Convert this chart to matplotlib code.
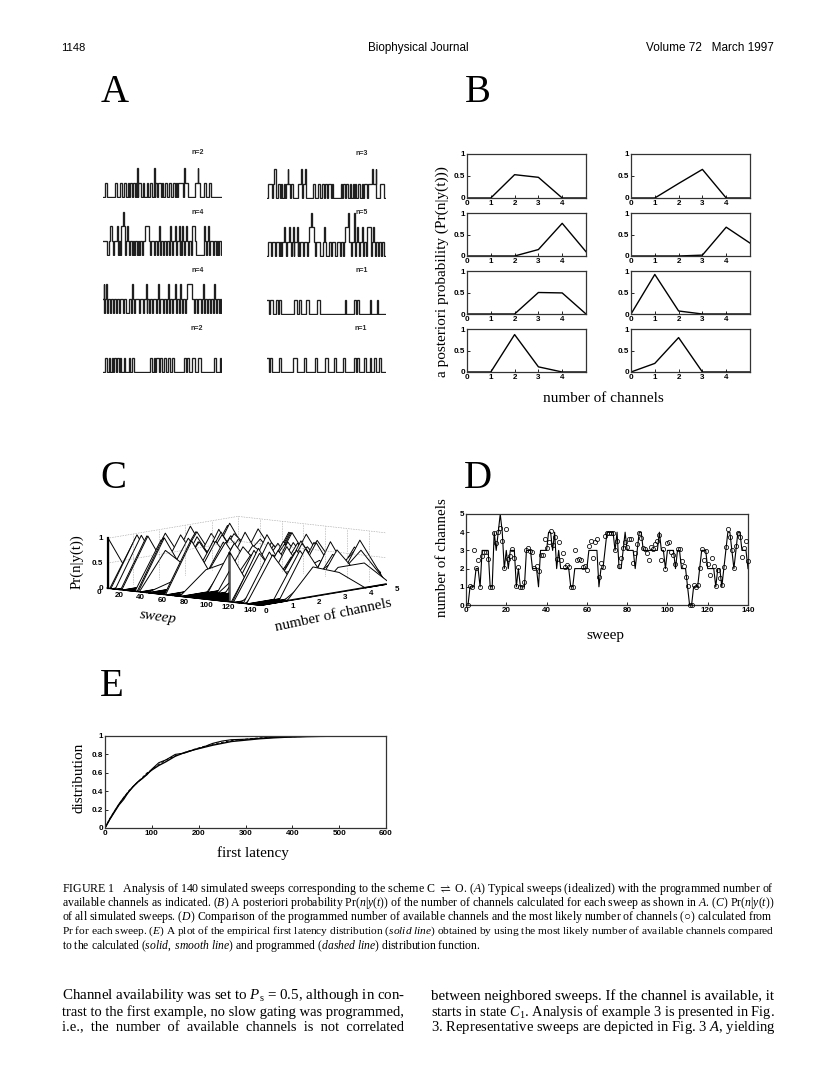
"""Journal page: simulated sweeps, channel posteriors, waterfall, latency CDF."""

import numpy as np
import matplotlib
matplotlib.use("Agg")
import matplotlib.pyplot as plt
from mpl_toolkits.mplot3d import proj3d
from mpl_toolkits.mplot3d.art3d import Poly3DCollection

W, H = 816, 1078
SERIF = "Liberation Serif"
SANS = "Liberation Sans"

# A: each sweep is a list of (open, close) pulses per current level
sweep_n2a_l1 = [(2, 4), (12, 14), (17, 19), (21, 23), (24.5, 26), (27, 28.5), (30, 31.5), (32.5, 34), (35, 38),
                (39.5, 41), (44, 45), (47, 49), (50.5, 51.5), (52, 53.5), (55, 58), (59, 60), (62, 64), (66, 68),
                (70, 72), (73, 74), (75, 80), (81, 85), (92, 97), (101, 103), (106, 108)]
sweep_n2a_l2 = [(34.3, 34.8), (51, 51.5), (81, 81.5), (94.5, 95)]
sweep_n3_l1 = [(1, 5), (6, 9), (11, 13), (14, 15), (17, 18), (19, 23), (24, 26), (31, 35), (36, 38), (46, 48),
               (51, 53), (55, 57), (58, 60), (61, 64), (65, 66), (74, 75), (76, 78), (79, 81), (83, 84), (86, 87),
               (88, 89), (91, 93), (95, 96), (97, 100), (101, 105), (106, 109), (113, 117)]
sweep_n3_l2 = [(7, 9), (20.5, 21), (34, 34.6), (38, 38.6), (105, 106), (108.5, 109)]
sweep_n4a_l1 = [(0, 4), (6, 7), (8, 10), (11, 15), (16, 17), (18, 20), (21, 22), (23, 26), (27, 29), (30, 31),
                (32, 34), (35, 36), (37, 39), (40, 42), (43, 44), (45, 47), (48, 51), (52, 54), (55, 57), (58, 60),
                (61, 63), (64, 66), (67, 69), (70, 73), (74, 76), (77, 78), (79, 81), (82, 85), (86, 88), (89, 90),
                (91, 93), (101, 103), (104, 106), (107, 110), (111, 113), (114, 115), (116, 118)]
sweep_n4a_l2 = [(7, 8.5), (14, 15), (18, 22), (24, 25), (42, 46), (56, 56.5), (67, 67.5), (72, 72.5), (76, 76.5),
                (79, 79.5), (83, 84), (89, 92), (101, 102), (105, 105.5)]
sweep_n4a_l3 = [(20, 20.5)]
sweep_n5_l1 = [(1, 4), (5, 8), (9, 12), (13, 14), (15, 19), (20, 24), (25, 26), (27, 30), (31, 32), (33, 36),
               (37, 40), (41, 44), (45, 48), (49, 53), (56, 59), (62, 64), (65, 68), (70, 73), (74, 76), (77, 79),
               (81, 84), (85, 88), (89, 92), (93, 96), (97, 99), (100, 104), (105, 108), (109, 111), (112, 114),
               (115, 117)]
sweep_n5_l2 = [(17, 17.5), (22, 22.5), (26, 26.5), (30, 30.5), (42, 47), (57, 57.5), (78, 81), (90, 90.5), (95, 95.5),
               (100, 104), (106, 106.5)]
sweep_n5_l3 = [(44, 44.5), (81, 81.5), (87, 87.5)]
sweep_n4b_l1 = [(0, 1), (2, 4), (5, 7), (8, 10), (11, 13), (14, 16), (17, 20), (21, 23), (26, 28), (29, 31),
                (32, 36), (37, 40), (41, 43), (44, 46), (47, 49), (50, 53), (54, 56), (57, 60), (61, 63), (64, 66),
                (67, 69), (70, 73), (74, 76), (77, 79), (80, 82), (83, 85), (86, 88), (89, 91), (92, 94), (95, 98),
                (99, 101), (102, 104), (105, 107), (108, 110), (111, 113), (114, 116), (117, 118)]
sweep_n4b_l2 = [(0.5, 1), (3, 4), (29, 29.5), (43, 43.5), (55, 55.5), (65, 65.5), (72, 72.5), (77, 77.5), (84, 89),
                (100, 100.5), (111, 111.5)]
sweep_n1a_l1 = [(0, 2), (3, 6), (9, 11), (12, 14), (27, 30), (32, 34), (39, 42), (50, 53), (78, 79), (87, 89),
                (90, 92), (103, 104), (110, 111)]
sweep_n2b_l1 = [(2, 4), (6, 7), (9, 10), (11, 13), (14, 16), (17, 18), (21, 22), (26, 27), (29, 31), (47, 49),
                (51, 52), (53, 56), (57, 59), (61, 63), (65, 67), (69, 71), (81, 83), (84, 86), (89, 92), (95, 98),
                (111, 113), (117, 118)]
sweep_n1b_l1 = [(0, 2), (3, 5), (12, 14), (26, 30), (37, 39), (48, 50), (58, 61), (67, 69), (76, 78), (87, 89),
                (90, 92), (97, 99), (103, 104), (107, 109), (112, 114)]
sweep_labels = ["n=2", "n=3", "n=4", "n=5", "n=4", "n=1", "n=2", "n=1"]

# B: posterior per panel, channels 0..5
channels = [0, 1, 2, 3, 4, 5]
post_1l = [0, 0, 0.53, 0.47, 0, 0]
post_1r = [0, 0, 0.33, 0.65, 0, 0]
post_2l = [0, 0, 0, 0.15, 0.76, 0.1]
post_2r = [0, 0, 0, 0.02, 0.67, 0.3]
post_3l = [0, 0, 0, 0.5, 0.49, 0]
post_3r = [0, 0.92, 0.07, 0, 0, 0]
post_4l = [0, 0, 0.87, 0.12, 0, 0]
post_4r = [0, 0.2, 0.8, 0, 0, 0]

# D: programmed number per sweep (line) and most likely number (circles)
programmed = [0, 1, 1, 1, 2, 2, 1, 3, 3, 3, 3, 1, 1, 4, 3, 4, 5, 4, 2, 3,
              2, 3, 3, 3, 1, 2, 1, 1, 1, 3, 3, 3, 2, 2, 2, 1, 3, 3, 3, 3,
              4, 4, 3, 4, 2, 3, 2, 2, 2, 2, 2, 1, 1, 2, 2, 2, 2, 2, 2, 2,
              3, 3, 3, 3, 3, 1, 2, 2, 3, 4, 4, 4, 4, 3, 4, 2, 2, 3, 4, 3,
              3, 3, 3, 2, 3, 4, 4, 3, 3, 3, 3, 3, 3, 3, 3, 4, 3, 3, 2, 3,
              3, 3, 3, 2, 3, 3, 2, 2, 2, 1, 0, 0, 1, 1, 1, 2, 3, 3, 3, 2,
              2, 2, 2, 1, 2, 2, 1, 2, 3, 4, 4, 3, 2, 3, 4, 4, 3, 3, 3, 2]
likely = [0.0, 1.05, 1.0, 3.0, 2.05, 2.45, 1.0, 2.7, 2.9, 2.9, 2.55, 1.0, 1.0, 3.95, 3.4, 4.0, 4.25, 3.5, 2.05, 4.2,
          2.55, 2.7, 3.1, 2.6, 1.05, 2.1, 1.0, 1.0, 1.25, 3.0, 3.15, 2.95, 2.9, 2.05, 2.15, 1.85, 2.75, 2.75, 3.65, 3.15,
          3.45, 4.05, 3.3, 3.75, 2.55, 3.45, 2.45, 2.85, 2.1, 2.2, 2.1, 1.0, 1.0, 3.0, 2.5, 2.55, 2.45, 2.1, 2.15, 1.9,
          3.25, 3.5, 2.6, 3.45, 3.65, 1.55, 2.3, 2.1, 3.8, 3.95, 3.95, 3.95, 3.95, 3.0, 3.5, 2.15, 2.6, 3.15, 3.45, 3.2,
          3.65, 3.65, 2.3, 2.85, 3.35, 3.95, 3.7, 3.15, 3.1, 2.85, 2.45, 3.2, 3.1, 3.35, 3.5, 3.85, 2.5, 3.1, 2.0, 3.4,
          3.45, 2.9, 2.75, 2.25, 3.05, 3.1, 2.4, 2.15, 1.55, 1.05, 0.0, 0.0, 1.1, 1.0, 1.1, 2.05, 3.05, 2.5, 2.95, 2.25,
          1.65, 2.6, 2.15, 1.05, 1.9, 1.5, 1.1, 2.1, 3.2, 4.2, 3.75, 3.0, 2.05, 3.25, 3.95, 3.75, 2.65, 3.15, 3.5, 2.4]

# E: first latency distributions
latency = [0, 10, 20, 30, 40, 50, 60, 70, 80, 90, 100, 115, 130, 150, 170, 190, 210, 230, 250, 270, 300, 330, 360,
           400, 460, 500, 600]
dist_empirical = [0, .09, .17, .25, .31, .39, .45, .50, .54, .58, .64, .71, .74, .80, .815, .85, .88, .92, .945, .96,
                  .965, .975, .985, .99, 1, 1, 1]
dist_programmed = [0, .10, .18, .26, .33, .40, .45, .50, .55, .60, .635, .69, .74, .785, .82, .855, .885, .91, .93, .95,
                   .965, .98, .985, .992, .998, 1, 1]
dist_calculated = [0, .095, .18, .26, .33, .39, .45, .50, .54, .59, .63, .68, .72, .78, .82, .85, .875, .90, .92, .94,
                   .955, .97, .98, .99, .996, .998, 1]

caption_lines = [
    r"FIGURE 1   Analysis of 140 simulated sweeps corresponding to the scheme C $\rightleftharpoons$ O. $\mathit{(A)}$ Typical sweeps (idealized) with the programmed number of",
    r"available channels as indicated. $\mathit{(B)}$ A posteriori probability Pr($\mathit{n|y(t)}$) of the number of channels calculated for each sweep as shown in $\mathit{A}$. $\mathit{(C)}$ Pr($\mathit{n|y(t)}$)",
    r"of all simulated sweeps. $\mathit{(D)}$ Comparison of the programmed number of available channels and the most likely number of channels ($\bigcirc$) calculated from",
    r"Pr for each sweep. $\mathit{(E)}$ A plot of the empirical first latency distribution ($\mathit{solid\ line}$) obtained by using the most likely number of available channels compared",
    r"to the calculated ($\mathit{solid,\ smooth\ line}$) and programmed ($\mathit{dashed\ line}$) distribution function.",
]
body_left = [
    r"Channel availability was set to $\mathit{P}_{\mathrm{s}}$ = 0.5, although in con-",
    "trast to the first example, no slow gating was programmed,",
    "i.e.,  the  number  of  available  channels  is  not  correlated",
]
body_right = [
    "between neighbored sweeps. If the channel is available, it",
    r"starts in state $\mathit{C}_{1}$. Analysis of example 3 is presented in Fig.",
    r"3. Representative sweeps are depicted in Fig. 3 $\mathit{A}$, yielding",
]

plt.rcParams["font.family"] = SERIF
plt.rcParams["mathtext.fontset"] = "custom"
plt.rcParams["mathtext.rm"] = SERIF
plt.rcParams["mathtext.it"] = SERIF + ":italic"
plt.rcParams["mathtext.bf"] = SERIF + ":bold"

fig = plt.figure(figsize=(W / 100, H / 100), dpi=100)
renderer = fig.canvas.get_renderer()


def px_axes(left, top, right, bottom, **kw):
    return fig.add_axes([left / W, 1 - bottom / H, (right - left) / W, (bottom - top) / H], **kw)


def label(x, y, s, width=None, size=10, rotation=0, ha="center", **kw):
    """Text at page pixels; with width, the size is scaled to span that many pixels."""
    t = fig.text(x / W, 1 - y / H, s, fontsize=size, ha=ha, va="center", rotation_mode="anchor", **kw)
    if width is not None:
        t.set_fontsize(size * width / t.get_window_extent(renderer).width)
    t.set_rotation(rotation)
    return t


def style_box(ax):
    for sp in ax.spines.values():
        sp.set_linewidth(0.9)
        sp.set_color("0.2")
    ax.tick_params(direction="in", length=2, width=0.6, labelsize=5.8, pad=1.5, colors="k")
    for t in ax.get_xticklabels() + ax.get_yticklabels():
        t.set_fontfamily(SANS)
        t.set_fontweight("bold")


def trace(*levels):
    """Step trace of a sweep: the level at any time is the highest open pulse list."""
    edges = sorted({e for lv in levels for p in lv for e in p} | {0.0, 119.0})
    mids = (np.array(edges[:-1]) + np.array(edges[1:])) / 2
    lev = np.zeros(len(mids))
    for i, lv in enumerate(levels, start=1):
        for a, b in lv:
            lev[(mids > a) & (mids < b)] = i
    return edges, np.r_[lev, lev[-1]]


# -- page text ---------------------------------------------------------------
label(61, 48, "1148", width=24, ha="left", family=SANS)
label(418, 48, "Biophysical Journal", width=100, family=SANS)
label(774, 48, "Volume 72   March 1997", width=128, ha="right", family=SANS)
for s, x, y in (("A", 115, 93), ("B", 478, 93), ("C", 113, 479), ("D", 478, 479), ("E", 112, 686)):
    label(x, y, s, size=28)

for line, y, right in zip(caption_lines, (889, 903, 917, 931, 946), (773, 773, 773, 773, 481)):
    label(62, y, line, width=right - 62, ha="left")
for line, y in zip(body_left, (996, 1012, 1028)):
    label(62, y, line, width=344, ha="left")
for line, y in zip(body_right, (996, 1012, 1028)):
    label(431, y, line, width=343, ha="left")

# -- A: idealized sweeps -----------------------------------------------------
sweeps = [
    (103, 197, (sweep_n2a_l1, sweep_n2a_l2)),
    (267, 198, (sweep_n3_l1, sweep_n3_l2)),
    (103, 255, (sweep_n4a_l1, sweep_n4a_l2, sweep_n4a_l3)),
    (267, 256, (sweep_n5_l1, sweep_n5_l2, sweep_n5_l3)),
    (103, 313, (sweep_n4b_l1, sweep_n4b_l2)),
    (267, 314, (sweep_n1a_l1,)),
    (103, 372, (sweep_n2b_l1,)),
    (267, 372, (sweep_n1b_l1,)),
]
label_xy = [(198, 153), (362, 154), (198, 212), (362, 213), (198, 271), (362, 271), (197, 328), (361, 329)]
for (x0, base, levels), name, (lx, ly) in zip(sweeps, sweep_labels, label_xy):
    ax = px_axes(x0, base - 45, x0 + 119, base + 1)
    t, lev = trace(*levels)
    ax.plot(t, lev, color="0.12", lw=0.95, drawstyle="steps-post", solid_joinstyle="miter")
    ax.set_xlim(0, 119)
    ax.set_ylim(-1 / 14.3, 45 / 14.3)
    ax.axis("off")
    label(lx, ly, name, size=5, family=SANS, weight="bold", color="0.15")

# -- B: posteriors -----------------------------------------------------------
rows = [(154, 198), (213, 256), (271, 314), (329, 372)]
cols = [(467, 586), (631, 750)]
panels = [post_1l, post_1r, post_2l, post_2r, post_3l, post_3r, post_4l, post_4r]
for i, post in enumerate(panels):
    top, bottom = rows[i // 2]
    left, right = cols[i % 2]
    ax = px_axes(left, top, right, bottom)
    ax.plot(channels, post, color="k", lw=1.0)
    ax.set_xlim(0, 5)
    ax.set_ylim(0, 1)
    ax.set_xticks([0, 1, 2, 3, 4])
    ax.set_yticks([0, 0.5, 1], ["0", "0.5", "1"])
    style_box(ax)
label(442, 272, "a posteriori probability (Pr(n|y(t)))", width=210, rotation=90)
label(603, 399, "number of channels", width=120)

# -- C: waterfall of Pr(n|y(t)) ----------------------------------------------
ax3 = fig.add_axes([0.1, 0.4, 0.4, 0.4], projection="3d", proj_type="ortho", computed_zorder=False)
ax3.set_xlim(0, 140)
ax3.set_ylim(0, 5)
ax3.set_zlim(0, 1)
ax3.view_init(elev=7.85, azim=-50.9)
ax3.set_box_aspect((197, 207, 50))
ax3.set_axis_off()

sweep_ticks = [20, 40, 60, 80, 100, 120, 140]
grid = dict(color="0.5", lw=0.45, ls=":")
for n in channels[1:]:
    ax3.plot([0, 0], [n, n], [0, 1], **grid)
for s in sweep_ticks:
    ax3.plot([s, s], [5, 5], [0, 1], **grid)
for z in (0.5, 1):
    ax3.plot([0, 0, 140], [0, 5, 5], [z, z, z], **grid)

# each sweep's posterior splits over the two channels either side of its circle in D
for s, c in enumerate(likely, start=1):
    low = min(int(c), 4)
    pr = np.zeros(6)
    pr[low], pr[low + 1] = 1 - (c - low), c - low
    verts = [(s, 0, 0)] + [(s, n, p) for n, p in zip(channels, pr)] + [(s, 5, 0)]
    ax3.add_collection3d(Poly3DCollection([verts], facecolor="white", edgecolor="k", linewidth=0.7))

ax3.plot([0, 140, 140], [0, 0, 5], [0, 0, 0], color="k", lw=0.8)
ax3.plot([1, 1], [0, 0], [0, 1], color="k", lw=1.6)


def corner_px(x, y, z):
    px, py, _ = proj3d.proj_transform(x, y, z, ax3.get_proj())
    return ax3.transData.transform((px, py))


# scale and shift the 3d axes until the floor diagonal lands on the printed one
a_target = np.array([107.0, H - 588.0])
b_target = np.array([391.0, H - 583.0])
fig.canvas.draw()
a, b = corner_px(0, 0, 0), corner_px(140, 5, 0)
pos = ax3.get_position()
k = np.linalg.norm(b_target - a_target) / np.linalg.norm(b - a)
ax3.set_position([pos.x0, pos.y0, pos.width * k, pos.height * k])
fig.canvas.draw()
a = corner_px(0, 0, 0)
pos = ax3.get_position()
ax3.set_position([pos.x0 + (a_target[0] - a[0]) / W, pos.y0 + (a_target[1] - a[1]) / H, pos.width, pos.height])


def label_3d(s, x, y, z, dx, dy, ha="center"):
    """Tick label placed at a pixel offset from a projected 3d point."""
    px, py = corner_px(x, y, z)
    label(px + dx, H - py + dy, s, size=5.8, ha=ha, family=SANS, weight="bold")


for s in sweep_ticks:
    label_3d(str(s), s, 0, 0, -10, 5)
label_3d("0", 0, 0, 0, -8, 5)
for n in channels:
    label_3d(str(n), 140, n, 0, 6, 6)
for z, s in ((0, "0"), (0.5, "0.5"), (1, "1")):
    label_3d(s, 0, 0, z, -4, 0, ha="right")

label(77, 562, "Pr(n|y(t))", width=55, rotation=90)
label(158, 617, "sweep", width=37, rotation=-8, style="italic")
label(333, 615, "number of channels", width=118, rotation=12)

# -- D: programmed vs most likely --------------------------------------------
ax = px_axes(466, 514, 748, 605)
sweep_no = np.arange(1, len(programmed) + 1)
ax.plot(sweep_no, programmed, color="k", lw=0.8)
ax.plot(sweep_no, likely, "o", mfc="none", mec="k", mew=0.55, ms=3.0, ls="none", clip_on=False, zorder=3)
ax.set_xlim(0, 140)
ax.set_ylim(0, 5)
ax.set_xticks(range(0, 141, 20))
ax.set_yticks(range(6))
style_box(ax)
label(443, 558, "number of channels", width=118, rotation=90)
label(605, 635, "sweep", width=38)

# -- E: latency distribution -------------------------------------------------
ax = px_axes(105, 736, 386, 828)
ax.plot(latency, dist_programmed, color="k", lw=0.7, ls=(0, (3, 2)))
ax.plot(latency, dist_empirical, color="k", lw=0.8)
ax.plot(latency, dist_calculated, color="k", lw=1.0)
ax.set_xlim(0, 600)
ax.set_ylim(0, 1)
ax.set_xticks(range(0, 601, 100))
ax.set_yticks([0, 0.2, 0.4, 0.6, 0.8, 1], ["0", "0.2", "0.4", "0.6", "0.8", "1"])
style_box(ax)
label(79, 778, "distribution", width=70, rotation=90)
label(253, 853, "first latency", width=72)

fig.savefig("out.png", dpi=100)
